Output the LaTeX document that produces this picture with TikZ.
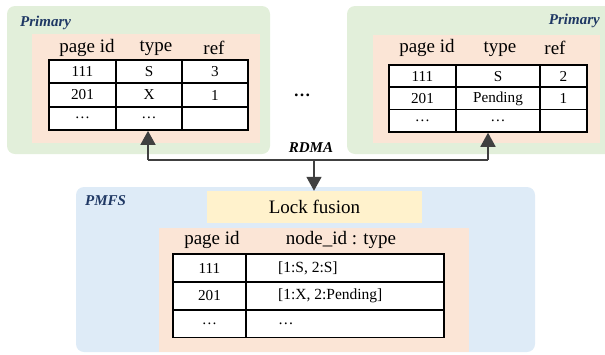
\documentclass[tikz,border=0pt]{standalone}
\usepackage{fontspec}
\setmainfont{Liberation Serif}
\usetikzlibrary{arrows.meta}
\definecolor{grn}{HTML}{E2EFDA}
\definecolor{slm}{HTML}{FBE5D6}
\definecolor{blu}{HTML}{DEEBF7}
\definecolor{ylw}{HTML}{FFF2CC}
\definecolor{navy}{HTML}{1F3864}
\definecolor{arr}{HTML}{404040}
\tikzset{
  grnbox/.style={fill=grn, rounded corners=8pt, draw=none},
  slmbox/.style={fill=slm, draw=none},
  blubox/.style={fill=blu, rounded corners=8pt, draw=none},
  lbl/.style={font=\fontsize{15}{17}\selectfont\bfseries\itshape, text=navy, inner sep=0pt},
  hdr/.style={font=\fontsize{19}{22}\selectfont, inner sep=0pt},
  cellbox/.style={draw=black, line width=1.8pt, fill=white, inner sep=0pt, font=\fontsize{15.2}{17}\selectfont},
  txt/.style={inner sep=0pt, font=\fontsize{15.5}{17}\selectfont},
  conn/.style={draw=arr, line width=1.6pt},
  tip/.style={-{Triangle[width=15pt,length=14pt]}}
}
\begin{document}
\begin{tikzpicture}[x=1pt,y=-1pt]
\useasboundingbox (0,0) rectangle (605,354);
\clip (0,0) rectangle (605,354);
% left primary
\path[grnbox] (7,6) rectangle (270,154);
\path[slmbox] (32,34) rectangle (260,143);
\node[lbl, anchor=west] (lp) at (20,23) {Primary};
\node[hdr] (lh1) at (87,48) {page id};
\node[hdr] (lh2) at (156,48) {type};
\node[hdr] (lh3) at (214,48) {ref};
\foreach \r/\y/\a/\b/\c in {1/71.7/111/S/3, 2/95/201/X/1, 3/118.3/…/…/{}}{
  \node[cellbox, minimum width=67pt, minimum height=23.3pt] (la\r) at (82.5,\y) {\a};
  \node[cellbox, minimum width=66pt, minimum height=23.3pt] (lb\r) at (149,\y) {\b};
  \node[cellbox, minimum width=66pt, minimum height=23.3pt] (lc\r) at (215,\y) {\c};
}
% right primary
\path[grnbox] (347,6) rectangle (620,154);
\path[slmbox] (373,35) rectangle (600,143);
\node[lbl, anchor=east] (rp) at (600,21) {Primary};
\node[hdr] (rh1) at (427,48) {page id};
\node[hdr] (rh2) at (500,49) {type};
\node[hdr] (rh3) at (555,48) {ref};
\foreach \r/\y/\a/\b/\c in {1/76.2/111/S/2, 2/98.5/201/Pending/1, 3/120.7/…/…/{}}{
  \node[cellbox, minimum width=67pt, minimum height=22.3pt] (ra\r) at (422.5,\y) {\a};
  \node[cellbox, minimum width=84pt, minimum height=22.3pt] (rb\r) at (498,\y) {\b};
  \node[cellbox, minimum width=47pt, minimum height=22.3pt] (rc\r) at (563.5,\y) {\c};
}
\node[font=\fontsize{17}{20}\selectfont\bfseries, inner sep=0pt] (dots) at (302,95) {…};
% PMFS
\path[blubox] (76,187) rectangle (535,352);
\node[lbl, anchor=west] (pm) at (85,201) {PMFS};
\node[fill=ylw, minimum width=215pt, minimum height=32pt, inner sep=0pt, font=\fontsize{19}{22}\selectfont] (lf) at (314.5,207) {Lock fusion};
\path[slmbox] (159,228) rectangle (469,352);
\node[hdr] (bh1) at (212,240) {page id};
\node[hdr] (bh2) at (341,240) {node\_id : type};
\foreach \r/\y/\a/\b in {1/268.1/111/{[1:S, 2:S]}, 2/296/201/{[1:X, 2:Pending]}, 3/323.7/…/…}{
  \node[cellbox, minimum width=73pt, minimum height=27.7pt] (ba\r) at (209.5,\y) {\a};
  \node[cellbox, minimum width=198pt, minimum height=27.7pt] (bb\r) at (345,\y) {};
  \node[txt, anchor=west] (bt\r) at (278,\y) {\b};
}
% connectors
\coordinate (jl) at (148,160);
\coordinate (jr) at (488,160);
\coordinate (jm) at (314,160);
\draw[conn] (jl) -- (jr);
\draw[conn, tip, fill=arr] (jl) -- (jl |- lb3.south);
\draw[conn, tip, fill=arr] (jr) -- (jr |- rb3.south);
\draw[conn, tip, fill=arr] (jm) -- (jm |- lf.north);
\node[lbl, text=black] (rdma) at (311,148) {RDMA};
\end{tikzpicture}
\end{document}
